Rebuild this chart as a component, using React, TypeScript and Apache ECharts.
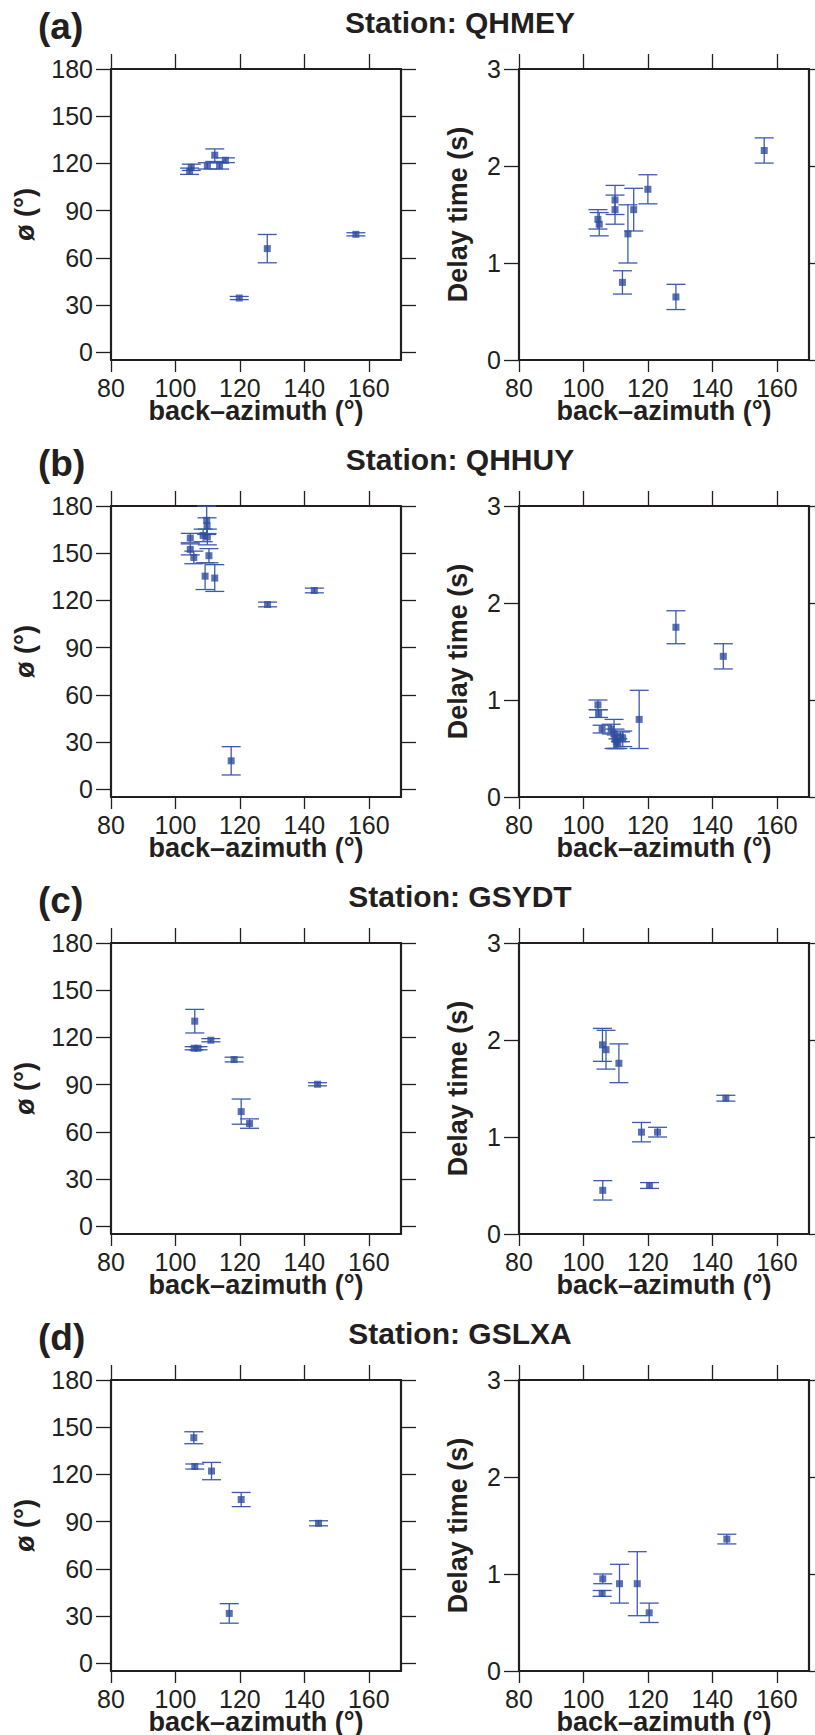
import React, { useEffect, useRef } from "react";
import * as echarts from "echarts";

// ---- axis tick values ----
const xTicks = [80, 100, 120, 140, 160];
const phiTicks = [0, 30, 60, 90, 120, 150, 180];
const dtTicks = [0, 1, 2, 3];

// ---- panel labels ----
const panelLetters = ["(a)", "(b)", "(c)", "(d)"];
const stations = ["QHMEY", "QHHUY", "GSYDT", "GSLXA"];

// ---- (a) QHMEY ----
const qhmeyPhiBaz = [104.9, 104.4, 109.9, 112.2, 113.7, 115.5, 119.8, 128.5, 156.0];
const qhmeyPhi = [117.5, 115.0, 118.4, 125.2, 118.4, 122.0, 34.4, 65.8, 74.9];
const qhmeyPhiErr = [2, 2, 2, 4, 2, 1.5, 1, 9, 1];
const qhmeyDtBaz = [104.5, 104.9, 109.8, 109.8, 112.1, 113.8, 115.6, 120.0, 128.7, 156.1];
const qhmeyDt = [1.45, 1.4, 1.65, 1.55, 0.8, 1.3, 1.55, 1.76, 0.65, 2.16];
const qhmeyDtErr = [0.1, 0.12, 0.15, 0.15, 0.12, 0.3, 0.22, 0.15, 0.13, 0.13];

// ---- (b) QHHUY ----
const qhhuyPhiBaz = [104.6, 104.6, 105.7, 108.6, 109.2, 109.7, 109.8, 109.9, 110.4, 112.2, 117.3, 128.6, 143.1];
const qhhuyPhi = [159.6, 152.4, 147.3, 161.3, 135.4, 170.9, 167.5, 160.3, 148.4, 134.2, 18.0, 117.4, 126.3];
const qhhuyPhiErr = [3, 3.5, 4, 4, 8.5, 9, 5, 5, 4.5, 8.5, 9, 1.5, 1.5];
const qhhuyDtBaz = [104.5, 104.7, 105.8, 108.6, 109.5, 109.8, 110.2, 110.7, 111.5, 112.2, 117.3, 128.7, 143.4];
const qhhuyDt = [0.95, 0.86, 0.7, 0.7, 0.65, 0.6, 0.57, 0.55, 0.62, 0.6, 0.8, 1.75, 1.45];
const qhhuyDtErr = [0.05, 0.04, 0.04, 0.05, 0.15, 0.1, 0.07, 0.05, 0.05, 0.08, 0.3, 0.17, 0.13];

// ---- (c) GSYDT ----
const gsydtPhiBaz = [106.0, 105.8, 107.0, 111.0, 118.2, 120.4, 123.0, 144.1];
const gsydtPhi = [130.3, 113.1, 113.1, 118.2, 105.9, 72.8, 65.2, 90.2];
const gsydtPhiErr = [7.5, 1, 1, 1, 1.5, 8, 3, 1];
const gsydtDtBaz = [105.9, 107.0, 111.0, 118.0, 123.0, 106.0, 120.5, 144.2];
const gsydtDt = [1.95, 1.9, 1.76, 1.05, 1.05, 0.45, 0.5, 1.4];
const gsydtDtErr = [0.17, 0.2, 0.2, 0.1, 0.05, 0.1, 0.03, 0.03];

// ---- (d) GSLXA ----
const gslxaPhiBaz = [105.7, 106.0, 111.2, 120.4, 116.7, 144.4];
const gslxaPhi = [143.3, 125.0, 122.1, 104.0, 31.6, 88.9];
const gslxaPhiErr = [3.8, 1.6, 5.5, 4.5, 6.2, 1.6];
const gslxaDtBaz = [106.0, 105.8, 111.2, 116.7, 120.4, 144.5];
const gslxaDt = [0.95, 0.8, 0.9, 0.9, 0.6, 1.36];
const gslxaDtErr = [0.05, 0.03, 0.2, 0.33, 0.1, 0.05];

const rows = [
  { phi: [qhmeyPhiBaz, qhmeyPhi, qhmeyPhiErr], dt: [qhmeyDtBaz, qhmeyDt, qhmeyDtErr] },
  { phi: [qhhuyPhiBaz, qhhuyPhi, qhhuyPhiErr], dt: [qhhuyDtBaz, qhhuyDt, qhhuyDtErr] },
  { phi: [gsydtPhiBaz, gsydtPhi, gsydtPhiErr], dt: [gsydtDtBaz, gsydtDt, gsydtDtErr] },
  { phi: [gslxaPhiBaz, gslxaPhi, gslxaPhiErr], dt: [gslxaDtBaz, gslxaDt, gslxaDtErr] },
];

// ---- layout / style ----
const W = 815;
const H = 1735;
const ROW_H = 437;
const TOP0 = 69;
const PLOT_W = 290;
const PLOT_H = 291;
const LEFT_X = 111;
const RIGHT_X = 519;
const FONT = "'Liberation Sans', Arial, Helvetica, sans-serif";
const INK = "#231f20";
const MARK = "#2f4c9e";
const BAR = "#3d5aae";
const CAP_HW = 9.5;

function zip(a: number[][]) {
  return a[0].map((x, i) => [x, a[1][i], a[2][i]]);
}

function buildOption() {
  const grid: any[] = [];
  const xAxis: any[] = [];
  const yAxis: any[] = [];
  const series: any[] = [];
  const graphic: any[] = [];

  const tickStyle = { color: INK, width: 1.3 };
  const lineStyle = { color: INK, width: 2.2 };
  const labelStyle = { fontSize: 25, color: INK, fontFamily: FONT };
  const nameStyle = { fontSize: 27, fontWeight: "bold", color: INK, fontFamily: FONT };

  rows.forEach((row, i) => {
    const top = TOP0 + i * ROW_H;

    graphic.push({
      type: "text",
      left: 38,
      top: top - 69 + 8,
      style: { text: panelLetters[i], font: `bold 37px ${FONT}`, fill: INK },
    });
    graphic.push({
      type: "text",
      x: 460,
      y: top - 69 + 22.6,
      style: {
        text: "Station: " + stations[i],
        font: `bold 30px ${FONT}`,
        fill: INK,
        align: "center",
        verticalAlign: "middle",
      },
    });

    const panels = [
      { left: LEFT_X, data: row.phi, ymin: -5, ymax: 180, yt: phiTicks, yname: "ø (°)", ygap: 73 },
      { left: RIGHT_X, data: row.dt, ymin: 0, ymax: 3, yt: dtTicks, yname: "Delay time (s)", ygap: 48 },
    ];

    panels.forEach((p) => {
      const g = grid.length;
      grid.push({
        left: p.left,
        top,
        width: PLOT_W,
        height: PLOT_H,
        containLabel: false,
        outerBoundsMode: "none",
      });
      const xb = xAxis.length;
      xAxis.push({
        gridIndex: g,
        type: "value",
        position: "bottom",
        min: 80,
        max: 170,
        axisLine: { show: true, onZero: false, lineStyle },
        axisTick: { show: true, inside: false, length: 12, lineStyle: tickStyle, customValues: xTicks },
        axisLabel: { show: true, margin: 15, ...labelStyle, customValues: xTicks },
        splitLine: { show: false },
        name: "back–azimuth (°)",
        nameLocation: "middle",
        nameGap: 37,
        nameMoveOverlap: false,
        nameTextStyle: nameStyle,
      });
      xAxis.push({
        gridIndex: g,
        type: "value",
        position: "top",
        min: 80,
        max: 170,
        axisLine: { show: true, onZero: false, lineStyle },
        axisTick: { show: true, inside: false, length: 15, lineStyle: tickStyle, customValues: xTicks },
        axisLabel: { show: false },
        splitLine: { show: false },
      });
      const yl = yAxis.length;
      yAxis.push({
        gridIndex: g,
        type: "value",
        position: "left",
        min: p.ymin,
        max: p.ymax,
        axisLine: { show: true, onZero: false, lineStyle },
        axisTick: { show: true, inside: false, length: 15, lineStyle: tickStyle, customValues: p.yt },
        axisLabel: { show: true, margin: 18, ...labelStyle, customValues: p.yt },
        splitLine: { show: false },
        name: p.yname,
        nameLocation: "middle",
        nameGap: p.ygap,
        nameMoveOverlap: false,
        nameTextStyle: nameStyle,
      });
      yAxis.push({
        gridIndex: g,
        type: "value",
        position: "right",
        min: p.ymin,
        max: p.ymax,
        axisLine: { show: true, onZero: false, lineStyle },
        axisTick: { show: true, inside: false, length: 15, lineStyle: tickStyle, customValues: p.yt },
        axisLabel: { show: false },
        splitLine: { show: false },
      });

      const pts = zip(p.data);
      series.push({
        type: "custom",
        xAxisIndex: xb,
        yAxisIndex: yl,
        clip: false,
        silent: true,
        encode: { x: 0, y: 1 },
        data: pts,
        renderItem: (params: any, api: any) => {
          const x = api.value(0);
          const y = api.value(1);
          const e = api.value(2);
          const a = api.coord([x, y + e]);
          const b = api.coord([x, y - e]);
          const st = { stroke: BAR, lineWidth: 1.3 };
          return {
            type: "group",
            children: [
              { type: "line", shape: { x1: a[0], y1: a[1], x2: b[0], y2: b[1] }, style: st },
              { type: "line", shape: { x1: a[0] - CAP_HW, y1: a[1], x2: a[0] + CAP_HW, y2: a[1] }, style: st },
              { type: "line", shape: { x1: b[0] - CAP_HW, y1: b[1], x2: b[0] + CAP_HW, y2: b[1] }, style: st },
            ],
          };
        },
      });
      series.push({
        type: "scatter",
        xAxisIndex: xb,
        yAxisIndex: yl,
        symbol: "rect",
        symbolSize: 7,
        silent: true,
        itemStyle: { color: MARK },
        data: pts.map((d) => [d[0], d[1]]),
      });
    });
  });

  return {
    animation: false,
    backgroundColor: "#ffffff",
    textStyle: { fontFamily: FONT },
    grid,
    xAxis,
    yAxis,
    series,
    graphic,
  };
}

export default function App() {
  const ref = useRef<HTMLDivElement>(null);
  useEffect(() => {
    if (!ref.current) return;
    const chart = echarts.init(ref.current, undefined, { renderer: "svg" });
    chart.setOption(buildOption() as any);
    return () => chart.dispose();
  }, []);
  return (
    <div
      ref={ref}
      style={{ position: "absolute", left: 0, top: 0, width: W, height: H, background: "#fff" }}
    />
  );
}
